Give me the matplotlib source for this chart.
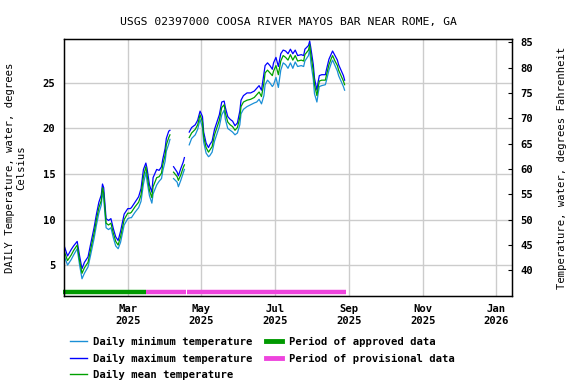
import numpy as np
import matplotlib
matplotlib.use("Agg")
import matplotlib.pyplot as plt
from matplotlib.lines import Line2D

# daily values (deg C), NaN = missing days
dates = ["2025-01-07", "2025-01-10", "2025-01-13", "2025-01-15", "2025-01-18", "2025-01-20",
         "2025-01-22", "2025-01-24", "2025-01-27", "2025-01-29", "2025-02-01", "2025-02-03",
         "2025-02-05", "2025-02-07", "2025-02-08", "2025-02-09", "2025-02-11", "2025-02-13",
         "2025-02-15", "2025-02-17", "2025-02-19", "2025-02-21", "2025-02-23", "2025-02-26",
         "2025-03-01", "2025-03-03", "2025-03-04", "2025-03-07", "2025-03-10", "2025-03-12",
         "2025-03-14", "2025-03-16", "2025-03-17", "2025-03-19", "2025-03-21", "2025-03-22",
         "2025-03-25", "2025-03-27", "2025-03-29", "2025-03-30", "2025-04-01", "2025-04-02",
         "2025-04-04", "2025-04-05", "2025-04-06", "2025-04-08", "2025-04-11", "2025-04-12",
         "2025-04-14", "2025-04-16", "2025-04-17", "2025-04-19", "2025-04-21", "2025-04-23",
         "2025-04-26", "2025-04-28", "2025-04-30", "2025-05-02", "2025-05-03", "2025-05-05",
         "2025-05-07", "2025-05-08", "2025-05-10", "2025-05-12", "2025-05-14", "2025-05-16",
         "2025-05-18", "2025-05-20", "2025-05-21", "2025-05-23", "2025-05-25", "2025-05-27",
         "2025-05-29", "2025-05-31", "2025-06-02", "2025-06-03", "2025-06-05", "2025-06-08",
         "2025-06-11", "2025-06-14", "2025-06-16", "2025-06-18", "2025-06-20", "2025-06-22",
         "2025-06-23", "2025-06-25", "2025-06-27", "2025-06-29", "2025-06-30", "2025-07-02",
         "2025-07-04", "2025-07-06", "2025-07-08", "2025-07-10", "2025-07-12", "2025-07-14",
         "2025-07-16", "2025-07-18", "2025-07-20", "2025-07-23", "2025-07-25", "2025-07-26",
         "2025-07-29", "2025-07-30", "2025-07-31", "2025-08-02", "2025-08-03", "2025-08-05",
         "2025-08-06", "2025-08-07", "2025-08-09", "2025-08-12", "2025-08-13", "2025-08-15",
         "2025-08-17", "2025-08-18", "2025-08-20", "2025-08-22", "2025-08-23", "2025-08-25",
         "2025-08-27", "2025-08-28"]

t_mean = [6.6, 5.5, 6.1, 6.6, 7.2, 5.5, 4.1, 4.7, 5.3, 6.6, 8.5, 10.0,
          11.3, 12.1, 13.5, 12.9, 9.6, 9.4, 9.6, 8.5, 7.6, 7.2, 8.1, 10.0,
          10.7, 10.7, 10.8, 11.4, 11.9, 12.7, 14.7, 15.8, 14.9, 13.2, 12.4, 13.6,
          14.6, 14.7, 15.1, 16.0, 17.1, 18.2, 19.0, 19.3, np.nan, 15.2, 14.7, 14.3,
          14.9, 15.7, 16.0, np.nan, 19.0, 19.5, 19.9, 20.4, 21.5, 20.7, 19.1, 17.9,
          17.4, 17.6, 18.0, 19.3, 20.1, 20.9, 22.3, 22.6, 21.7, 20.7, 20.4, 20.2,
          19.8, 20.1, 21.2, 22.4, 22.9, 23.1, 23.2, 23.4, 23.7, 24.0, 23.5, 25.0,
          26.1, 26.4, 26.1, 25.8, 26.3, 26.9, 25.9, 27.4, 28.0, 27.8, 27.5, 28.1,
          27.5, 28.0, 27.4, 27.5, 27.4, 28.1, 28.6, 29.2, 28.1, 26.3, 24.8, 23.6,
          24.5, 25.2, 25.3, 25.3, 25.9, 27.0, 27.7, 28.0, 27.4, 26.9, 26.4, 25.8,
          25.2, 24.8]

t_max = [7.2, 6.0, 6.7, 7.1, 7.6, 6.0, 4.6, 5.3, 5.9, 7.2, 9.1, 10.6,
         11.9, 12.7, 13.9, 13.5, 10.1, 9.9, 10.1, 9.0, 8.1, 7.7, 8.7, 10.6,
         11.2, 11.2, 11.3, 11.9, 12.5, 13.4, 15.5, 16.2, 15.6, 13.8, 13.0, 14.6,
         15.5, 15.4, 15.8, 16.6, 17.8, 18.9, 19.7, 19.8, np.nan, 15.8, 15.2, 14.8,
         15.6, 16.3, 16.8, np.nan, 19.6, 20.1, 20.4, 20.9, 21.9, 21.3, 19.6, 18.4,
         17.9, 18.2, 18.6, 19.9, 20.7, 21.5, 22.9, 23.0, 22.3, 21.3, 21.0, 20.8,
         20.3, 20.6, 21.9, 23.1, 23.6, 23.9, 23.9, 24.1, 24.4, 24.7, 24.2, 26.0,
         26.9, 27.2, 26.9, 26.5, 27.2, 27.8, 26.8, 28.2, 28.6, 28.5, 28.2, 28.7,
         28.2, 28.6, 28.0, 28.1, 28.0, 28.7, 29.1, 29.6, 28.8, 27.0, 25.5, 24.2,
         25.1, 25.8, 25.9, 25.9, 26.5, 27.6, 28.2, 28.5, 28.0, 27.5, 27.0, 26.4,
         25.8, 25.3]

t_min = [6.1, 5.0, 5.6, 6.1, 6.8, 5.0, 3.5, 4.1, 4.8, 6.0, 7.9, 9.4,
         10.7, 11.6, 13.0, 12.3, 9.1, 8.9, 9.1, 8.0, 7.1, 6.8, 7.5, 9.4,
         10.1, 10.2, 10.2, 10.8, 11.3, 12.0, 13.9, 15.2, 14.2, 12.6, 11.8, 12.8,
         13.8, 14.2, 14.5, 15.3, 16.4, 17.5, 18.3, 18.8, np.nan, 14.5, 14.1, 13.6,
         14.3, 15.1, 15.5, np.nan, 18.2, 18.9, 19.3, 19.9, 21.0, 20.1, 18.5, 17.3,
         16.9, 17.0, 17.4, 18.6, 19.4, 20.2, 21.5, 22.0, 21.0, 20.0, 19.8, 19.6,
         19.3, 19.5, 20.4, 21.6, 22.1, 22.4, 22.6, 22.8, 22.9, 23.2, 22.7, 23.6,
         24.8, 25.3, 25.0, 24.6, 24.8, 25.6, 24.5, 26.4, 27.2, 27.0, 26.6, 27.2,
         26.6, 27.3, 26.8, 26.9, 26.8, 27.4, 28.0, 28.7, 27.2, 25.4, 23.8, 22.9,
         23.8, 24.6, 24.7, 24.8, 25.3, 26.4, 27.2, 27.5, 26.9, 26.3, 25.8, 25.2,
         24.6, 24.2]

# approval periods (start, end)
approved = [("2025-01-06", "2025-03-16")]
provisional = [("2025-03-16", "2025-04-18"), ("2025-04-19", "2025-08-29")]

x_ticks = ["2025-03-01", "2025-05-01", "2025-07-01", "2025-09-01", "2025-11-01", "2026-01-01"]
x_labels = ["Mar\n2025", "May\n2025", "Jul\n2025", "Sep\n2025", "Nov\n2025", "Jan\n2026"]
c_ticks = [5, 10, 15, 20, 25]
f_ticks = [40, 45, 50, 55, 60, 65, 70, 75, 80, 85]

plt.rcParams['font.family'] = 'DejaVu Sans Mono'
plt.rcParams['font.weight'] = 'bold'
fs = 7.6

c_min_col = "#1a8fd6"
c_max_col = "#0000ff"
c_mean_col = "#00a000"
c_appr = "#009900"
c_prov = "#ee44dd"

d = np.array(dates, dtype="datetime64[D]")

fig = plt.figure(figsize=(5.76, 3.84), dpi=100)
ax = fig.add_axes([0.111, 0.229, 0.778, 0.669])

ax.plot(d, t_min, color=c_min_col, lw=0.9)
ax.plot(d, t_max, color=c_max_col, lw=0.9)
ax.plot(d, t_mean, color=c_mean_col, lw=0.9)

bar_y = 2.07
for s, e in approved:
    ax.plot([np.datetime64(s), np.datetime64(e)], [bar_y, bar_y], color=c_appr,
            lw=3.2, solid_capstyle="butt", clip_on=False)
for s, e in provisional:
    ax.plot([np.datetime64(s), np.datetime64(e)], [bar_y, bar_y], color=c_prov,
            lw=3.2, solid_capstyle="butt", clip_on=False)

ax.set_xlim(np.datetime64("2025-01-07"), np.datetime64("2026-01-14"))
ylo, yhi = 1.6, 29.8
ax.set_ylim(ylo, yhi)

ax.set_xticks(np.array(x_ticks, dtype="datetime64[D]"))
ax.set_xticklabels(x_labels, fontsize=fs)
ax.set_yticks(c_ticks)
ax.set_yticklabels([str(v) for v in c_ticks], fontsize=fs)
ax.tick_params(axis="both", length=0, pad=6)
ax.grid(True, color="#cccccc", lw=1)
ax.set_axisbelow(True)
for sp in ax.spines.values():
    sp.set_linewidth(1)

ax.set_ylabel("DAILY Temperature, water, degrees\nCelsius", fontsize=fs, labelpad=12)
ax.set_title("USGS 02397000 COOSA RIVER MAYOS BAR NEAR ROME, GA", fontsize=8.2, pad=10)

ax2 = ax.twinx()
ax2.set_ylim(ylo * 1.8 + 32, yhi * 1.8 + 32)
ax2.set_yticks(f_ticks)
ax2.set_yticklabels([str(v) for v in f_ticks], fontsize=fs)
ax2.tick_params(axis="y", direction="in", length=3, pad=6)
ax2.set_ylabel("Temperature, water, degrees Fahrenheit", fontsize=fs, labelpad=17)

handles = [
    Line2D([], [], color=c_min_col, lw=1),
    Line2D([], [], color=c_max_col, lw=1),
    Line2D([], [], color=c_mean_col, lw=1),
    Line2D([], [], color=c_appr, lw=3.5),
    Line2D([], [], color=c_prov, lw=3.5),
]
labels = ["Daily minimum temperature", "Daily maximum temperature", "Daily mean temperature",
          "Period of approved data", "Period of provisional data"]
fig.legend(handles, labels, ncol=2, loc="upper left", bbox_to_anchor=(0.122, 0.122),
           frameon=False, fontsize=fs, handlelength=1.6, handletextpad=0.6,
           columnspacing=1.2, labelspacing=0.6, borderpad=0, borderaxespad=0)

fig.savefig("out.png", dpi=100)
